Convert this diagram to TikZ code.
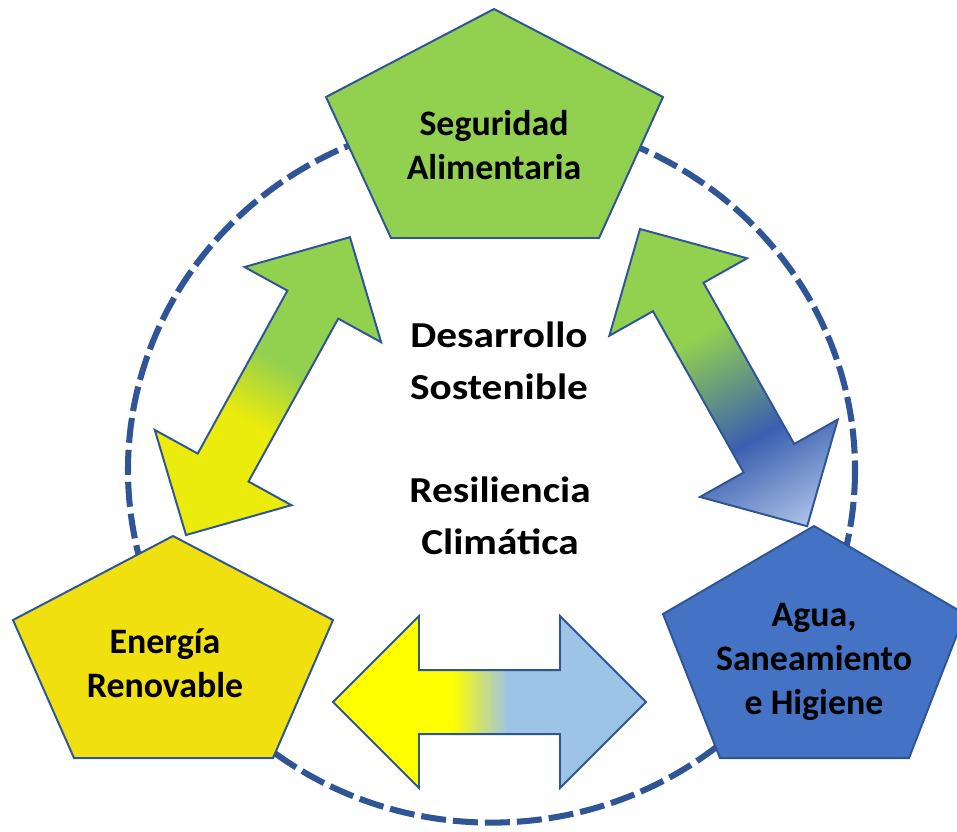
\documentclass[tikz,border=0pt]{standalone}
\usepackage{fontspec}
\setmainfont{Carlito}
\newfontfamily\anchafont[FakeStretch=1.13]{Carlito}

\definecolor{verde}{HTML}{92D050}
\definecolor{amarillo}{HTML}{F0E010}
\definecolor{azul}{HTML}{4472C4}
\definecolor{borde}{HTML}{2F5597}
\definecolor{amarilloflecha}{HTML}{EBEB0C}
\definecolor{amarillopuro}{HTML}{FFFF00}
\definecolor{celeste}{HTML}{9DC3E6}
\definecolor{azuloscuro}{HTML}{3A5FAF}
\definecolor{azulclaro}{HTML}{AFC4E8}

\pgfdeclarehorizontalshading{amaverde}{100bp}{color(0bp)=(amarilloflecha); color(44bp)=(amarilloflecha); color(54bp)=(verde); color(100bp)=(verde)}
\pgfdeclarehorizontalshading{verdeazul}{100bp}{color(0bp)=(verde); color(43bp)=(verde); color(60bp)=(azuloscuro); color(75bp)=(azulclaro); color(100bp)=(azulclaro)}
\pgfdeclarehorizontalshading{amaceleste}{100bp}{color(0bp)=(amarillopuro); color(44bp)=(amarillopuro); color(53bp)=(celeste); color(100bp)=(celeste)}

% flecha doble: largo, largo de punta, media punta, medio cuerpo
\newcommand\flechadoble[4]{(0,0) -- (#2,#3) -- (#2,#4) -- ({#1-#2},#4) -- ({#1-#2},#3) -- (#1,0) -- ({#1-#2},-#3) -- ({#1-#2},-#4) -- (#2,-#4) -- (#2,-#3) -- cycle}

\tikzset{
	contorno/.style={draw=borde, line width=1.4pt, line join=miter},
	etiqueta/.style={font=\bfseries\fontsize{25.5}{31.5}\selectfont, align=center},
	central/.style={font=\anchafont\bfseries\fontsize{26}{37}\selectfont, align=center},
	circulo/.style={draw=borde, line width=4.3pt, dash pattern=on 0.625cm off 0.175cm}
}

\begin{document}
\begin{tikzpicture}[x=0.025cm, y=-0.025cm]
	\useasboundingbox (0,0) rectangle (957,831);
	% circulo punteado
	\draw [circulo] (491.5,470) ellipse [x radius=363.5, y radius=352.6];
	% flechas
	\coordinate (er-sa) at (186,535);
	\coordinate (sa-ag) at (640,229);
	\coordinate (er-ag) at (333,702);
	\begin{scope}[transform canvas={shift={(er-sa)}, rotate=61.17}]
		\draw [contorno, shade, shading=amaverde] \flechadoble{340}{77}{78}{29};
	\end{scope}
	\begin{scope}[transform canvas={shift={(sa-ag)}, rotate=-60.65}]
		\draw [contorno, shade, shading=verdeazul] \flechadoble{341}{78}{79}{29};
	\end{scope}
	\begin{scope}[transform canvas={shift={(er-ag)}}]
		\draw [contorno, shade, shading=amaceleste] \flechadoble{313}{86}{86}{32};
	\end{scope}
	% pentagonos
	\draw [contorno, fill=verde] (494,9) -- (663,97) -- (599,238) -- (391,238) -- (326,97) -- cycle;
	\draw [contorno, fill=amarillo] (173,536) -- (333,620) -- (273,758) -- (74,758) -- (13,620) -- cycle;
	\draw [contorno, fill=azul] (814,526) -- (965,614) -- (909,758) -- (720,758) -- (663,614) -- cycle;
	% textos
	\node [etiqueta] (seguridad) at (494,145) {Seguridad\\Alimentaria};
	\node [etiqueta] (energia) at (165,663) {Energía\\Renovable};
	\node [etiqueta] (agua) at (814,662) {Agua,\\Saneamiento\\e Higiene};
	\node [central] (desarrollo) at (499,361) {Desarrollo\\Sostenible};
	\node [central] (resiliencia) at (500,516) {Resiliencia\\Climática};
\end{tikzpicture}
\end{document}
